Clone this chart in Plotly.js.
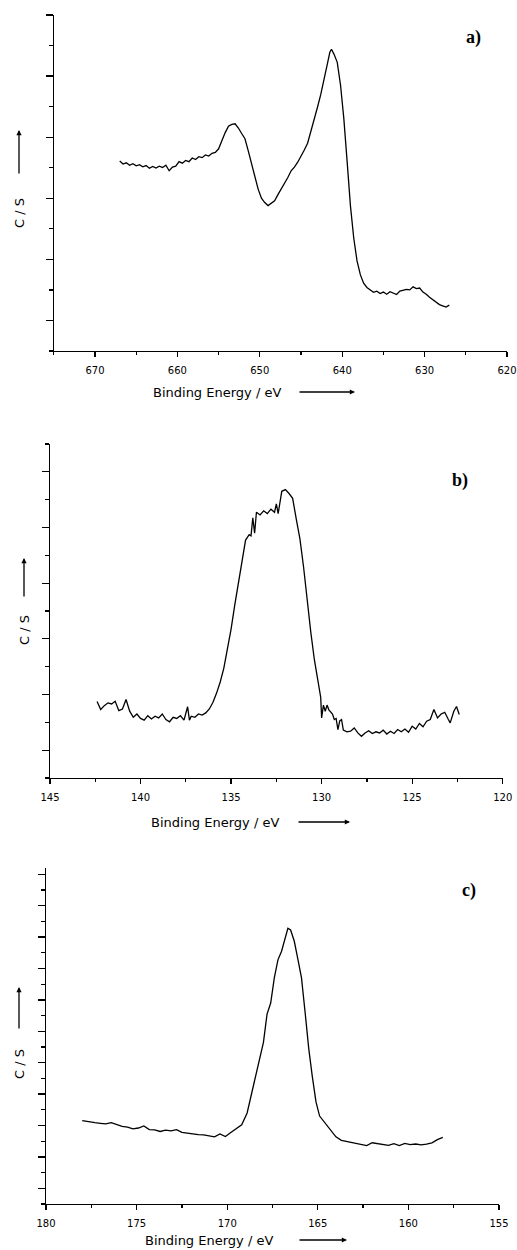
<!DOCTYPE html>
<html>
<head>
<meta charset="utf-8">
<script src="https://cdn.plot.ly/plotly-3.0.1.min.js"></script>
<style>html,body{margin:0;padding:0;background:#fff;}#chart{width:517px;height:1250px;}</style>
</head>
<body>
<div id="chart"></div>
<script>
// Panel a) binding energy (eV) and intensity (arbitrary units, 1 unit = 1 y tick)
const aEnergy = [667.0,666.6,666.2,665.8,665.4,665.0,664.6,664.2,663.8,663.4,663.0,662.6,662.2,661.8,661.4,661.0,660.6,660.2,659.8,659.4,659.0,658.6,658.2,657.8,657.4,657.0,656.6,656.2,655.8,655.4,655.0,654.6,654.2,653.8,653.4,653.0,652.6,652.2,651.8,651.4,651.0,650.6,650.2,649.8,649.4,649.0,648.6,648.2,647.8,647.4,647.0,646.6,646.2,645.8,645.4,645.0,644.6,644.2,643.8,643.4,643.0,642.6,642.2,641.8,641.5,641.3,641.0,640.6,640.2,639.8,639.4,639.0,638.6,638.2,637.8,637.4,637.0,636.6,636.2,635.8,635.4,635.0,634.6,634.2,633.8,633.4,633.0,632.6,632.2,631.8,631.4,631.0,630.6,630.2,629.8,629.4,629.0,628.6,628.2,627.8,627.4,627.0];
const aCounts = [6.22,6.12,6.16,6.08,6.13,6.06,6.10,6.03,6.07,5.98,6.04,5.99,6.05,6.01,6.08,5.90,6.02,6.05,6.20,6.15,6.24,6.20,6.32,6.27,6.36,6.33,6.42,6.38,6.47,6.50,6.62,6.90,7.15,7.36,7.42,7.44,7.30,7.12,6.95,6.55,6.10,5.70,5.30,5.00,4.86,4.76,4.85,4.92,5.12,5.30,5.48,5.68,5.90,6.02,6.18,6.36,6.58,6.80,7.18,7.52,7.98,8.40,8.95,9.40,9.78,9.88,9.72,9.45,8.70,7.60,6.20,4.75,3.70,2.95,2.50,2.22,2.08,2.00,1.92,1.96,1.88,1.93,1.86,1.94,1.90,1.85,1.96,1.98,2.02,2.00,2.10,2.04,2.06,1.93,1.86,1.76,1.68,1.60,1.52,1.48,1.44,1.50];

// Panel b)
const bEnergy = [142.4,142.2,142.0,141.8,141.6,141.4,141.2,141.0,140.8,140.6,140.4,140.2,140.0,139.8,139.6,139.4,139.2,139.0,138.8,138.6,138.4,138.2,138.0,137.8,137.6,137.4,137.3,137.2,137.0,136.8,136.6,136.4,136.2,136.0,135.8,135.6,135.4,135.2,135.0,134.8,134.6,134.4,134.2,134.0,133.9,133.8,133.7,133.6,133.4,133.2,133.0,132.8,132.6,132.5,132.4,132.2,132.0,131.8,131.6,131.4,131.2,131.0,130.8,130.6,130.4,130.2,130.05,130.0,129.9,129.8,129.7,129.6,129.4,129.3,129.2,129.1,129.0,128.9,128.8,128.6,128.4,128.2,128.0,127.8,127.6,127.4,127.2,127.0,126.8,126.6,126.4,126.2,126.0,125.8,125.6,125.4,125.2,125.0,124.8,124.6,124.4,124.2,124.0,123.8,123.6,123.4,123.2,123.0,122.9,122.7,122.55,122.4];
const bCounts = [2.75,2.46,2.60,2.70,2.66,2.76,2.42,2.48,2.82,2.40,2.18,2.30,2.14,2.08,2.24,2.12,2.22,2.16,2.30,2.10,2.02,2.18,2.14,2.24,2.08,2.56,2.08,2.22,2.18,2.30,2.26,2.34,2.48,2.72,3.05,3.45,3.95,4.60,5.35,6.20,6.95,7.72,8.55,8.74,8.70,9.35,8.80,9.55,9.45,9.60,9.50,9.66,9.55,9.85,9.50,10.30,10.36,10.22,10.05,9.30,8.60,7.60,6.40,5.25,4.25,3.40,2.90,2.16,2.62,2.40,2.62,2.45,2.30,2.10,2.14,1.74,2.05,2.10,1.72,1.66,1.68,1.80,1.62,1.50,1.62,1.70,1.60,1.66,1.62,1.72,1.58,1.68,1.60,1.74,1.66,1.76,1.64,1.86,1.76,1.96,1.84,2.04,2.10,2.46,2.16,2.30,2.36,2.10,1.98,2.40,2.57,2.28];

// Panel c)
const cEnergy = [178.0,177.6,177.3,177.0,176.7,176.4,176.1,175.8,175.5,175.2,174.9,174.6,174.3,174.0,173.7,173.4,173.1,172.8,172.5,172.2,171.9,171.6,171.3,171.0,170.7,170.4,170.1,169.8,169.5,169.2,168.9,168.6,168.3,168.0,167.8,167.6,167.4,167.2,167.0,166.8,166.65,166.5,166.3,166.1,165.9,165.7,165.5,165.3,165.1,164.9,164.6,164.3,164.0,163.7,163.4,163.1,162.8,162.5,162.3,162.0,161.7,161.4,161.1,160.8,160.5,160.2,159.9,159.6,159.3,159.0,158.7,158.4,158.1];
const cCounts = [5.31,5.22,5.18,5.14,5.10,5.18,5.08,4.94,4.90,4.78,4.84,4.97,4.74,4.72,4.62,4.70,4.66,4.74,4.56,4.50,4.48,4.42,4.40,4.34,4.28,4.46,4.30,4.55,4.80,5.05,5.80,7.30,8.85,10.30,12.10,12.80,14.40,15.55,16.10,17.00,17.56,17.45,16.75,15.60,14.40,12.20,9.90,8.10,6.50,5.60,5.15,4.72,4.28,4.05,3.98,3.94,3.88,3.80,3.72,3.90,3.86,3.80,3.74,3.84,3.72,3.86,3.78,3.82,3.76,3.82,3.90,4.10,4.24];

const panelLabels = ['a)', 'b)', 'c)'];
const xTitle = 'Binding Energy / eV';
const yTitle = 'C / S';

const W = 517, H = 1250;
const px = v => v / W;
const py = v => 1 - v / H;

const lineStyle = {color: '#000', width: 1.3};
const traces = [
  {x: aEnergy, y: aCounts, xaxis: 'x', yaxis: 'y', mode: 'lines', line: lineStyle, hoverinfo: 'skip'},
  {x: bEnergy, y: bCounts, xaxis: 'x2', yaxis: 'y2', mode: 'lines', line: lineStyle, hoverinfo: 'skip'},
  {x: cEnergy, y: cCounts, xaxis: 'x3', yaxis: 'y3', mode: 'lines', line: lineStyle, hoverinfo: 'skip'}
];

const tickFont = {family: 'DejaVu Sans, sans-serif', size: 10, color: '#000'};
function xAx(range, dom, anchor, dtick) {
  return {
    range: range, domain: dom, anchor: anchor, autorange: false,
    showline: true, linecolor: '#000', linewidth: 1.3, mirror: false,
    showgrid: false, zeroline: false,
    ticks: 'outside', ticklen: 5, tickwidth: 1.3, tickcolor: '#000',
    tick0: range[1], dtick: dtick, tickfont: tickFont, ticklabelstandoff: 5,
    minor: {dtick: dtick / 2, tick0: range[1], ticks: 'outside', ticklen: 3, tickwidth: 1.3, tickcolor: '#000', showgrid: false}
  };
}
function yAx(range, dom, anchor) {
  return {
    range: range, domain: dom, anchor: anchor, autorange: false,
    showline: true, linecolor: '#000', linewidth: 1.3,
    showgrid: false, zeroline: false, showticklabels: false,
    ticks: 'outside', ticklen: 7, tickwidth: 1.3, tickcolor: '#000',
    tick0: 1, dtick: 2,
    minor: {dtick: 1, tick0: 0, ticks: 'outside', ticklen: 4, tickwidth: 1.3, tickcolor: '#000', showgrid: false}
  };
}

// panel geometry in pixels
const geo = [
  {l: 53.8, r: 507, t: 15, b: 351, xr: [675, 620], yr: [0, 11], dt: 10},
  {l: 50, r: 502.7, t: 444, b: 778, xr: [145, 120], yr: [0, 12], dt: 5},
  {l: 46, r: 499, t: 868, b: 1204, xr: [180, 155], yr: [0, 21.4], dt: 5}
];

const layout = {
  width: W, height: H,
  margin: {l: 0, r: 0, t: 0, b: 0},
  paper_bgcolor: '#fff', plot_bgcolor: 'rgba(0,0,0,0)',
  showlegend: false,
  annotations: []
};
const axNames = [['xaxis', 'yaxis', 'x', 'y'], ['xaxis2', 'yaxis2', 'x2', 'y2'], ['xaxis3', 'yaxis3', 'x3', 'y3']];
geo.forEach((g, i) => {
  const [xn, yn, xa, ya] = axNames[i];
  layout[xn] = xAx(g.xr, [px(g.l), px(g.r)], ya, g.dt);
  layout[yn] = yAx(g.yr, [py(g.b), py(g.t)], xa);
});

const titleFont = {family: 'DejaVu Sans, sans-serif', size: 13, color: '#000'};
const xt = [[217, 392, 298, 355], [215, 822, 297, 350], [209, 1240, 298, 347]];
const yt = [[19, 213, 175, 130], [24, 630, 598, 558], [19, 1064, 1030, 987]];
const pl = [[473, 38], [460, 480], [469, 890]];

for (let i = 0; i < 3; i++) {
  layout.annotations.push({
    xref: 'paper', yref: 'paper', x: px(xt[i][0]), y: py(xt[i][1]),
    text: xTitle, showarrow: false, font: titleFont, xanchor: 'center', yanchor: 'middle'
  });
  layout.annotations.push({
    xref: 'paper', yref: 'paper', x: px(xt[i][3]), y: py(xt[i][1]),
    ax: xt[i][2] - xt[i][3], ay: 0, text: '', showarrow: true,
    arrowhead: 2, arrowsize: 0.8, arrowwidth: 1.3, arrowcolor: '#000'
  });
  layout.annotations.push({
    xref: 'paper', yref: 'paper', x: px(yt[i][0]), y: py(yt[i][1]),
    text: yTitle, textangle: -90, showarrow: false, font: titleFont, xanchor: 'center', yanchor: 'middle'
  });
  layout.annotations.push({
    xref: 'paper', yref: 'paper', x: px(yt[i][0]), y: py(yt[i][3]),
    ax: 0, ay: yt[i][2] - yt[i][3], text: '', showarrow: true,
    arrowhead: 2, arrowsize: 0.8, arrowwidth: 1.3, arrowcolor: '#000'
  });
  layout.annotations.push({
    xref: 'paper', yref: 'paper', x: px(pl[i][0]), y: py(pl[i][1]),
    text: '<b>' + panelLabels[i] + '</b>', showarrow: false,
    font: {family: 'Liberation Serif, Times New Roman, serif', size: 18, color: '#000'},
    xanchor: 'center', yanchor: 'middle'
  });
}

Plotly.newPlot('chart', traces, layout, {staticPlot: true, displayModeBar: false});
</script>
</body>
</html>
